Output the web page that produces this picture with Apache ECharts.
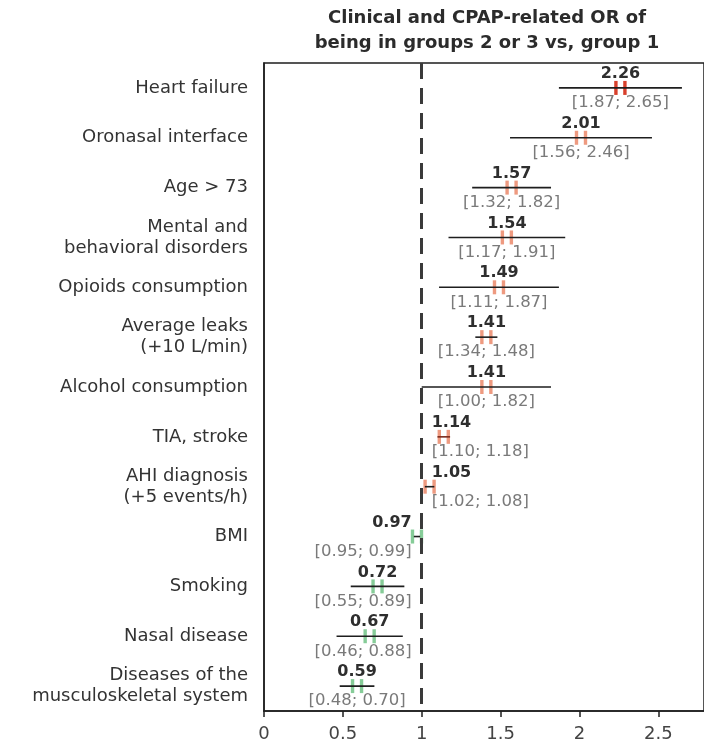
<!DOCTYPE html>
<html>
<head>
<meta charset="utf-8">
<script src="https://cdn.jsdelivr.net/npm/echarts@6/dist/echarts.min.js"></script>
<style>
  html, body { margin: 0; padding: 0; background: #fff; }
  #chart { width: 704px; height: 748px; }
</style>
</head>
<body>
<div id="chart"></div>
<script>
// Odds ratios with 95% confidence intervals, one row per factor (top to bottom)
const categories = [
  'Heart failure',
  'Oronasal interface',
  'Age > 73',
  'Mental and\nbehavioral disorders',
  'Opioids consumption',
  'Average leaks\n(+10 L/min)',
  'Alcohol consumption',
  'TIA, stroke',
  'AHI diagnosis\n(+5 events/h)',
  'BMI',
  'Smoking',
  'Nasal disease',
  'Diseases of the\nmusculoskeletal system'
];
const oddsRatio = [2.26, 2.01, 1.57, 1.54, 1.49, 1.41, 1.41, 1.14, 1.05, 0.97, 0.72, 0.67, 0.59];
const ciLower   = [1.87, 1.56, 1.32, 1.17, 1.11, 1.34, 1.00, 1.10, 1.02, 0.95, 0.55, 0.46, 0.48];
const ciUpper   = [2.65, 2.46, 1.82, 1.91, 1.87, 1.48, 1.82, 1.18, 1.08, 0.99, 0.89, 0.88, 0.70];
const referenceOR = 1;
const titleLines = ['Clinical and CPAP-related OR of', 'being in groups 2 or 3 vs, group 1'];

const FONT = '"DejaVu Sans", "Liberation Sans", sans-serif';
const valueFont = 'bold 16px ' + FONT;
const ciFont = '16.5px ' + FONT;

// text measuring, used to keep labels clear of the reference line
const measureCtx = document.createElement('canvas').getContext('2d');
function textWidth(str, font) {
  measureCtx.font = font;
  return measureCtx.measureText(str).width;
}

function placeLabel(str, font, cx, refX, above) {
  const gap = 10;
  const half = textWidth(str, font) / 2;
  if (above && cx - half < refX + gap) return { x: refX + gap, align: 'left' };
  if (!above && cx + half > refX - gap) return { x: refX - gap, align: 'right' };
  return { x: cx, align: 'center' };
}

function renderItem(params, api) {
  const idx = api.value(0);
  const or = api.value(1), lo = api.value(2), hi = api.value(3);
  const pOr = api.coord([or, idx]);
  const pLo = api.coord([lo, idx]);
  const pHi = api.coord([hi, idx]);
  const refX = api.coord([referenceOR, idx])[0];
  const y = pOr[1];
  const above = or >= referenceOR;
  const markColor = above ? (idx === 0 ? '#d8402c' : '#ee9a80') : '#86cc98';

  const valueText = or.toFixed(2);
  const ciText = '[' + lo.toFixed(2) + '; ' + hi.toFixed(2) + ']';
  const vPos = placeLabel(valueText, valueFont, pOr[0], refX, above);
  const cPos = placeLabel(ciText, ciFont, pOr[0], refX, above);

  const children = [];
  // point estimate marker: a pair of short vertical bars
  [-4.5, 4.5].forEach(function (dx) {
    children.push({
      type: 'rect',
      shape: { x: pOr[0] + dx - 1.7, y: y - 7, width: 3.4, height: 14 },
      style: { fill: markColor }
    });
  });
  // confidence interval
  children.push({
    type: 'line',
    shape: { x1: pLo[0], y1: y, x2: pHi[0], y2: y },
    style: { stroke: idx === 7 ? '#7a2a1c' : '#1e1e1e', lineWidth: 1.6 }
  });
  children.push({
    type: 'text',
    style: {
      text: valueText, x: vPos.x, y: y - 14,
      align: vPos.align, verticalAlign: 'middle',
      font: valueFont, fill: '#2e2e2e'
    }
  });
  children.push({
    type: 'text',
    style: {
      text: ciText, x: cPos.x, y: y + 15,
      align: cPos.align, verticalAlign: 'middle',
      font: ciFont, fill: '#7a7a7a'
    }
  });
  return { type: 'group', children: children };
}

const chart = echarts.init(document.getElementById('chart'), null, { renderer: 'canvas' });

chart.setOption({
  backgroundColor: '#ffffff',
  animation: false,
  title: {
    text: titleLines.join('\n'),
    left: 482,
    top: 1,
    textAlign: 'center',
    textStyle: {
      fontFamily: FONT, fontSize: 18, fontWeight: 'bold',
      color: '#2b2b2b', lineHeight: 25
    }
  },
  grid: {
    left: 264, top: 63, right: -3, bottom: 37,
    show: true, borderColor: '#1e1e1e', borderWidth: 1.5,
    containLabel: false
  },
  xAxis: {
    type: 'value',
    min: 0,
    max: 2.79,
    interval: 0.5,
    axisLine: { show: true, lineStyle: { color: '#1e1e1e', width: 1.5 } },
    axisTick: { show: true, length: 6, lineStyle: { color: '#1e1e1e', width: 1.5 } },
    axisLabel: {
      showMaxLabel: false,
      margin: 14,
      fontFamily: FONT, fontSize: 18, color: '#444'
    },
    splitLine: { show: false }
  },
  yAxis: {
    type: 'category',
    data: categories,
    inverse: true,
    axisLine: { show: true, lineStyle: { color: '#1e1e1e', width: 1.5 } },
    axisTick: { show: false },
    axisLabel: {
      margin: 16,
      fontFamily: FONT, fontSize: 18, color: '#333', lineHeight: 21,
      align: 'right'
    },
    splitLine: { show: false }
  },
  series: [{
    type: 'custom',
    renderItem: renderItem,
    encode: { x: [1, 2, 3], y: 0 },
    data: categories.map(function (c, i) {
      return [i, oddsRatio[i], ciLower[i], ciUpper[i]];
    }),
    markLine: {
      silent: true,
      symbol: 'none',
      label: { show: false },
      lineStyle: { color: '#3a3a3a', width: 3, type: [16, 9] },
      data: [{ xAxis: referenceOR }]
    },
    z: 3
  }]
});
</script>
</body>
</html>
